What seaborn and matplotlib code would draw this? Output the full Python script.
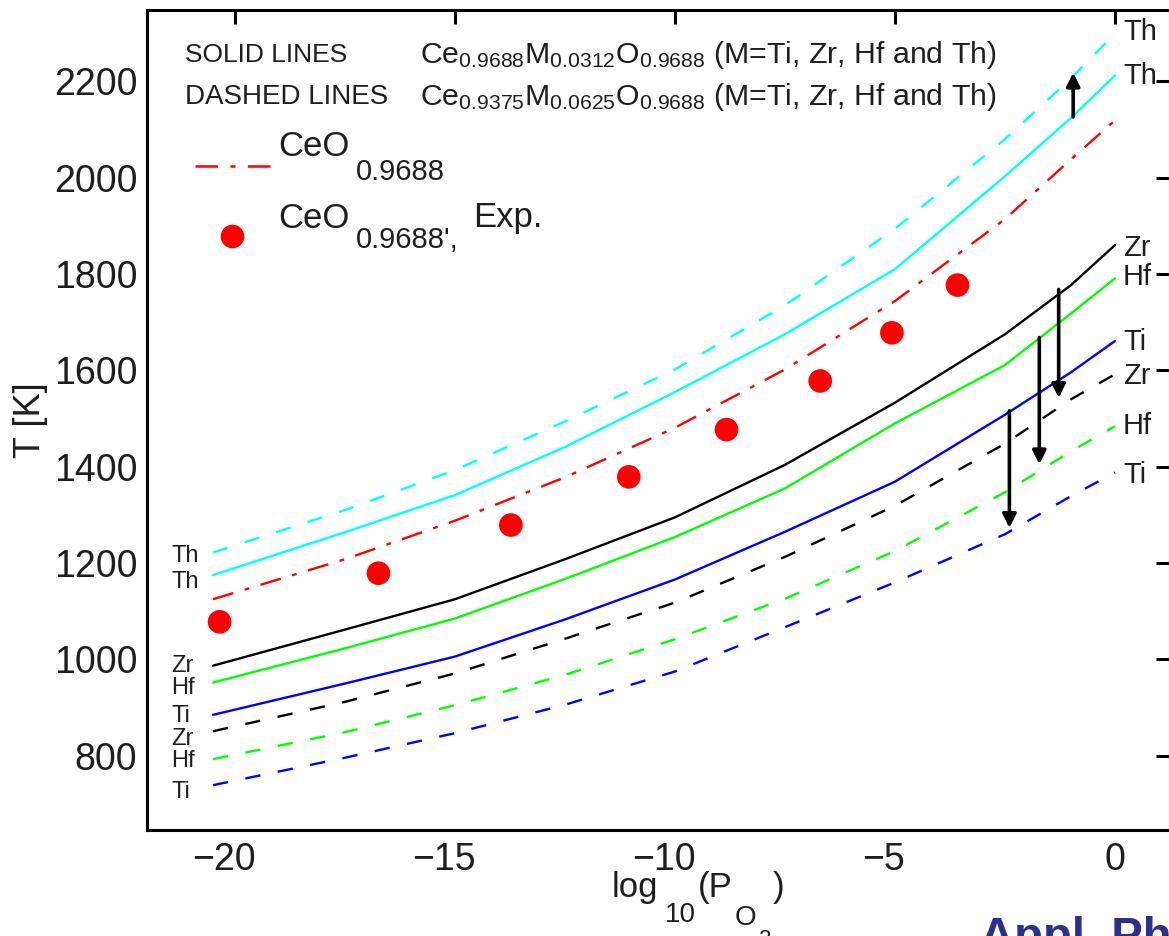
import matplotlib
matplotlib.use("Agg")
import matplotlib.pyplot as plt
from matplotlib.lines import Line2D
from matplotlib.transforms import ScaledTranslation
import numpy as np
import pandas as pd
import seaborn as sns

# ---------------- data ----------------
log_po2 = [-20.5, -17.5, -15.0, -12.5, -10.0, -7.5, -5.0, -2.5, -1.0, 0.0]

th_dashed = [1222, 1310, 1393, 1494, 1602, 1735, 1894, 2080, 2206, 2299]
th_solid = [1175, 1264, 1341, 1441, 1555, 1675, 1810, 2003, 2124, 2212]
ceo_calc = [1125, 1208, 1288, 1378, 1481, 1602, 1744, 1914, 2038, 2119]
zr_solid = [987, 1062, 1125, 1208, 1295, 1404, 1533, 1675, 1777, 1860]
hf_solid = [952, 1023, 1085, 1167, 1254, 1355, 1490, 1611, 1718, 1791]
ti_solid = [885, 950, 1006, 1083, 1166, 1265, 1369, 1508, 1596, 1661]
zr_dashed = [851, 912, 971, 1043, 1118, 1213, 1319, 1448, 1540, 1592]
hf_dashed = [793, 849, 905, 968, 1042, 1126, 1225, 1347, 1432, 1484]
ti_dashed = [739, 796, 847, 906, 975, 1067, 1160, 1260, 1339, 1388]

exp_log_po2 = [-20.35, -16.74, -13.73, -11.05, -8.83, -6.70, -5.07, -3.58]
exp_T = [1078, 1179, 1279, 1379, 1477, 1578, 1678, 1777]

right_labels = ["Th", "Th", "Zr", "Hf", "Ti", "Zr", "Hf", "Ti"]
right_label_T = [2302, 2210, 1855, 1793, 1659, 1588, 1484, 1383]
left_labels = ["Th", "Th", "Zr", "Hf", "Ti", "Zr", "Hf", "Ti"]
left_label_T = [1214, 1161, 986, 941, 883, 835, 789, 725]

x_ticks = [-20, -15, -10, -5, 0]
x_tick_labels = ["\u221220", "\u221215", "\u221210", "\u22125", "0"]
y_ticks = [800, 1000, 1200, 1400, 1600, 1800, 2000, 2200]

# ---------------- style ----------------
sns.set_style("white")
plt.rcParams["font.family"] = ["Liberation Sans", "DejaVu Sans"]
plt.rcParams["mathtext.fontset"] = "custom"
plt.rcParams["mathtext.rm"] = "Liberation Sans"
plt.rcParams["mathtext.it"] = "Liberation Sans:italic"
plt.rcParams["mathtext.bf"] = "Liberation Sans:bold"

W, H = 1169, 936
fig = plt.figure(figsize=(W / 100, H / 100), dpi=100)
fig.patch.set_facecolor("white")
ax = fig.add_axes([147 / W, 1 - 830 / H, (1170 - 147) / W, (830 - 10) / H])
ax.set_facecolor("white")

TXT = "#1e1e1e"
dash = (0, (6.5, 7.5))
dashdot = (0, (9, 5, 2, 5))
series = [
    (th_dashed, "#00ffff", dash),
    (th_solid, "#00ffff", "-"),
    (ceo_calc, "#ff0000", dashdot),
    (zr_solid, "#000000", "-"),
    (hf_solid, "#00ff00", "-"),
    (ti_solid, "#0000ff", "-"),
    (zr_dashed, "#000000", dash),
    (hf_dashed, "#00ff00", dash),
    (ti_dashed, "#0000ff", dash),
]
for vals, col, ls in series:
    df = pd.DataFrame({"x": log_po2, "y": vals})
    sns.lineplot(data=df, x="x", y="y", ax=ax, color=col, linewidth=1.7,
                 linestyle=ls, legend=False)

sns.scatterplot(x=exp_log_po2, y=exp_T, ax=ax, s=290, color="#ff0000",
                edgecolor="none", legend=False, zorder=5)

# arrows
arrow_kw = dict(arrowstyle="-|>", color="black", lw=2.6, mutation_scale=20,
                shrinkA=0, shrinkB=0)
ax.annotate("", xy=(-0.95, 2218), xytext=(-0.95, 2126), arrowprops=arrow_kw)
ax.annotate("", xy=(-1.28, 1543), xytext=(-1.28, 1768), arrowprops=arrow_kw)
ax.annotate("", xy=(-1.72, 1405), xytext=(-1.72, 1668), arrowprops=arrow_kw)
ax.annotate("", xy=(-2.40, 1273), xytext=(-2.40, 1516), arrowprops=arrow_kw)

# curve labels
for lab, t in zip(right_labels, right_label_T):
    ax.text(0.18, t, lab, fontsize=21, va="center", ha="left", color=TXT,
            clip_on=False)
for lab, t in zip(left_labels, left_label_T):
    ax.text(-21.45, t, lab, fontsize=17, va="center", ha="left", color=TXT)

# axes
ax.set_xlim(-22, 1.25)
ax.set_ylim(646, 2348)
ax.set_xticks(x_ticks)
ax.set_xticklabels(x_tick_labels)
ax.set_yticks(y_ticks)
for s in ax.spines.values():
    s.set_linewidth(2.2)
    s.set_color("black")
ax.tick_params(direction="in", length=10, width=2.2, top=True, right=True,
               labelsize=27, colors="black", labelcolor=TXT)
ax.tick_params(axis="y", pad=7)
ax.tick_params(axis="x", pad=9)
for lbl in ax.get_xticklabels():
    if lbl.get_text().startswith("\u2212"):
        lbl.set_transform(lbl.get_transform()
                          + ScaledTranslation(-0.11, 0, fig.dpi_scale_trans))
ax.set_xlabel("")
ax.set_ylabel("T [K]", fontsize=26, color=TXT, labelpad=4)


def fx(px):
    return px / W


def fy(py):
    return 1 - py / H


# x-axis label built from pieces to keep the large subscripts of the original
xl_parts = [("log", 612, 897, 25), ("10", 665, 922, 20), ("(P", 698, 897, 25),
            ("O", 735, 925, 20), ("2", 759, 945, 16), (")", 773, 897, 25)]
for txt, px, py, fs in xl_parts:
    fig.text(fx(px), fy(py), txt, fontsize=fs, va="baseline", ha="left", color=TXT)

# header text
HF = 19
FF = 21.8
fig.text(fx(185), fy(55), "SOLID LINES", fontsize=HF, va="center", ha="left", color=TXT)
fig.text(fx(420), fy(55),
         r"Ce$_{0.9688}$M$_{0.0312}$O$_{0.9688}$ (M=Ti, Zr, Hf and Th)",
         fontsize=FF, va="center", ha="left", color=TXT)
fig.text(fx(185), fy(97), "DASHED LINES", fontsize=HF + 1, va="center", ha="left",
         color=TXT)
fig.text(fx(420), fy(97),
         r"Ce$_{0.9375}$M$_{0.0625}$O$_{0.9688}$ (M=Ti, Zr, Hf and Th)",
         fontsize=FF, va="center", ha="left", color=TXT)

# legend entries
fig.add_artist(Line2D([fx(195), fx(270)], [fy(166), fy(166)], color="#ff0000",
                      lw=1.8, linestyle=dashdot))
fig.text(fx(278), fy(147), "CeO", fontsize=25, va="center", ha="left", color=TXT)
fig.text(fx(356), fy(172), "0.9688", fontsize=21, va="center", ha="left", color=TXT)
fig.add_artist(Line2D([fx(232)], [fy(236)], marker="o", markersize=17,
                      color="#ff0000", markeredgewidth=0, linestyle="none"))
fig.text(fx(278), fy(218), "CeO", fontsize=25, va="center", ha="left", color=TXT)
fig.text(fx(356), fy(240), "0.9688',", fontsize=21, va="center", ha="left", color=TXT)
fig.text(fx(473), fy(218), "Exp.", fontsize=25, va="center", ha="left", color=TXT)

# journal watermark (cut at the edge)
fig.text(fx(980), fy(916), "Appl. Phys. Lett.", fontsize=34, fontweight="bold",
         va="top", ha="left", color="#2e2e8c")

fig.savefig("out.png", dpi=100)
